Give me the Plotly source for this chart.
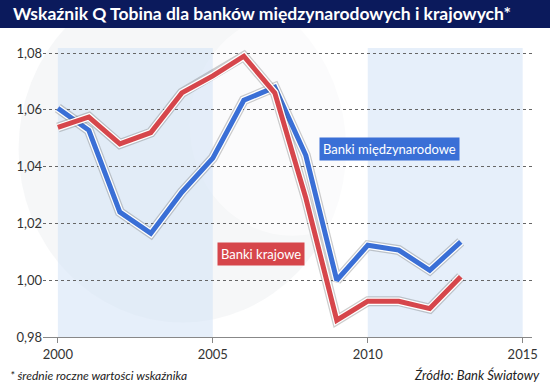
import plotly.graph_objects as go

years = list(range(2000, 2014))
intl = [1.0606, 1.0528, 1.024, 1.0165, 1.031, 1.043, 1.0634, 1.068, 1.044, 1.000, 1.0123, 1.0106, 1.0035, 1.0135]
dom = [1.0538, 1.0575, 1.048, 1.052, 1.066, 1.072, 1.0789, 1.066, 1.029, 0.9859, 0.9926, 0.9926, 0.990, 1.0012]
y_ticks = [0.98, 1.00, 1.02, 1.04, 1.06, 1.08]
x_ticks = [2000, 2005, 2010, 2015]
bands = [(2000, 2005), (2010, 2015)]

title_text = "Wskaźnik Q Tobina dla banków międzynarodowych i krajowych*"
note_text = "* średnie roczne wartości wskaźnika"
source_text = "Źródło: Bank Światowy"
label_intl = "Banki międzynarodowe"
label_dom = "Banki krajowe"

BLUE = "#3a6fd6"
RED = "#d6464b"
NAVY = "#0b1a5c"
FONT = "Lato"

W, H = 550, 388
ML, MR, MT, MB = 43, 15, 48, 51
PH = H - MT - MB

fig = go.Figure()

for ys, col in [(intl, BLUE), (dom, RED)]:
    fig.add_trace(go.Scatter(x=years, y=ys, mode="lines", hoverinfo="skip",
                             line=dict(color="rgba(90,90,90,0.30)", width=10), showlegend=False))
    fig.add_trace(go.Scatter(x=years, y=ys, mode="lines", hoverinfo="skip",
                             line=dict(color="white", width=7.5), showlegend=False))
    fig.add_trace(go.Scatter(x=years, y=ys, mode="lines",
                             line=dict(color=col, width=5), showlegend=False))

shapes = []
# faint watermark rings
shapes.append(dict(type="circle", xref="paper", yref="paper", x0=-0.05, x1=0.62, y0=0.05, y1=1.25,
                   line=dict(color="rgba(0,0,0,0)"), fillcolor="rgba(215,218,225,0.22)", layer="below"))
shapes.append(dict(type="circle", xref="paper", yref="paper", x0=0.30, x1=0.72, y0=0.35, y1=1.12,
                   line=dict(color="rgba(0,0,0,0)"), fillcolor="rgba(255,255,255,0.55)", layer="below"))
for a, b in bands:
    shapes.append(dict(type="rect", xref="x", yref="paper", x0=a, x1=b, y0=0, y1=1.0,
                       fillcolor="rgba(214,228,246,0.6)", line=dict(width=0), layer="below"))
# title bar (0..28 px from top)
shapes.append(dict(type="rect", xref="paper", yref="paper", x0=-0.2, x1=1.2,
                   y0=1.0 + (MT - 28) / PH, y1=1.0 + MT / PH + 0.05,
                   fillcolor=NAVY, line=dict(width=0), layer="below"))
fig.update_layout(shapes=shapes)

annotations = [
    dict(text=f"<b>{title_text}</b>", xref="paper", yref="paper", x=-0.065, y=1.0 + (MT - 14) / PH,
         xanchor="left", yanchor="middle", showarrow=False,
         font=dict(family=FONT, size=17.5, color="white")),
    dict(text=label_intl, x=2010.69, y=1.0461, xref="x", yref="y", showarrow=False,
         bgcolor=BLUE, borderpad=3, font=dict(family=FONT, size=13, color="white")),
    dict(text=label_dom, x=2006.56, y=1.0092, xref="x", yref="y", showarrow=False,
         bgcolor=RED, borderpad=3, font=dict(family=FONT, size=13, color="white")),
    dict(text=f"<i>{note_text}</i>", xref="paper", yref="paper", x=-0.072, y=-(375 - (H - MB)) / PH,
         xanchor="left", yanchor="middle", showarrow=False,
         font=dict(family=FONT, size=12, color="#222")),
    dict(text=f"<i>{source_text}</i>", xref="paper", yref="paper", x=1.02, y=-(375 - (H - MB)) / PH,
         xanchor="right", yanchor="middle", showarrow=False,
         font=dict(family=FONT, size=13, color="#222")),
]

fig.update_layout(
    width=W, height=H,
    margin=dict(l=ML, r=MR, t=MT, b=MB),
    paper_bgcolor="white", plot_bgcolor="rgba(0,0,0,0)",
    separators=", ",
    annotations=annotations,
    font=dict(family=FONT, size=13, color="#333"),
    xaxis=dict(range=[1999.52, 2015.3], tickvals=x_ticks, showgrid=False, zeroline=False,
               showline=True, linecolor="#888", linewidth=1, ticks="outside", ticklen=5,
               tickcolor="#888", tickfont=dict(family=FONT, size=13, color="#333")),
    yaxis=dict(range=[0.98, 1.0818], tickvals=y_ticks, tickformat=".2f", showgrid=True,
               gridcolor="#666", griddash="dot", gridwidth=1, zeroline=False, showline=False,
               ticks="", tickfont=dict(family=FONT, size=13, color="#333")),
)

fig.write_html("out.html", config={"displayModeBar": False},
               post_script="document.body.style.margin='0';document.body.style.overflow='hidden';")
